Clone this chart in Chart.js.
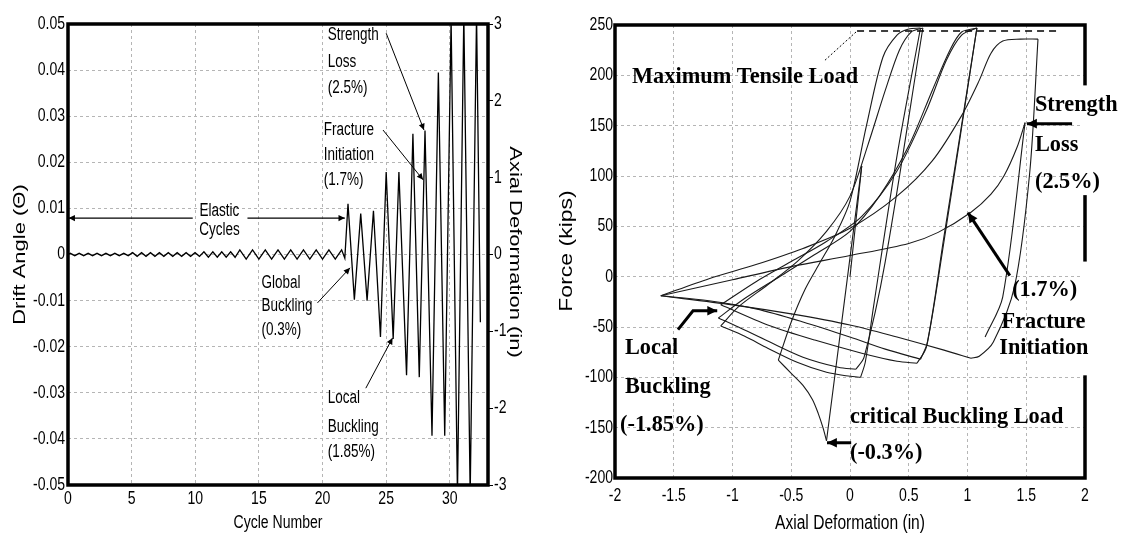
<!DOCTYPE html>
<html lang="en">
<head>
<meta charset="utf-8">
<script src="https://cdn.jsdelivr.net/npm/chart.js@4.4.0/dist/chart.umd.min.js"></script>
<style>
  body { margin: 0; background: #fff; }
  #drift-chart { position: absolute; left: 0; top: 0; }
  #loop-chart { position: absolute; left: 540px; top: 0; }
</style>
</head>
<body>
<canvas id="drift-chart" width="540" height="537"></canvas>
<canvas id="loop-chart" width="584" height="537"></canvas>

<script>
// ---- left: loading history ----
var driftCycle = [0, 0.18, 0.53, 0.88, 1.23, 1.58, 1.93, 2.28, 2.63, 2.98, 3.33, 3.68, 4.03, 4.38, 4.73,
  5.08, 5.43, 5.78, 6.13, 6.48, 6.83, 7.18, 7.53, 7.88, 8.23, 8.58, 8.93, 9.28, 9.63, 9.98, 10.33,
  10.68, 11.03, 11.38, 11.73, 12.08, 12.43, 12.78, 13.13,
  13.5, 14.0, 14.5, 15.0, 15.5, 16.0, 16.5, 17.0, 17.5, 18.0, 18.5, 19.0, 19.5, 20.0, 20.5, 21.0, 21.5, 21.75,
  22.0, 22.5, 23.0, 23.5, 24.0, 24.55, 25.0, 25.55, 26.0, 26.6, 27.1, 27.6, 28.05, 28.6, 29.1, 29.6,
  30.1, 30.6, 31.1, 31.6, 32.1, 32.4];
var driftAngle = [0, 0.00025, -0.00025, 0.00025, -0.00025, 0.00025, -0.00025, 0.00025, -0.00025, 0.00025, -0.00025, 0.00025, -0.00025, 0.00025, -0.00025,
  0.0004, -0.0004, 0.0004, -0.0004, 0.0004, -0.0004, 0.0004, -0.0004, 0.0004, -0.0004, 0.0004, -0.0004, 0.0004, -0.0004, 0.0004, -0.0004,
  0.0006, -0.0006, 0.0006, -0.0006, 0.0006, -0.0006, 0.0006, -0.0006,
  0.001, -0.001, 0.001, -0.001, 0.001, -0.001, 0.001, -0.001, 0.001, -0.001, 0.001, -0.001, 0.001, -0.001, 0.001, -0.001, 0.001, -0.0008,
  0.011, -0.0098, 0.0089, -0.0100, 0.0095, -0.0179, 0.0179, -0.0183, 0.0179, -0.0262, 0.0262, -0.0266, 0.0269, -0.0393, 0.0395, -0.0393,
  0.051, -0.052, 0.052, -0.052, 0.052, -0.0147];

var cycleTicks = [0, 5, 10, 15, 20, 25, 30];
var driftTicks = [-0.05, -0.04, -0.03, -0.02, -0.01, 0, 0.01, 0.02, 0.03, 0.04, 0.05];
var axialTicks = [-3, -2, -1, 0, 1, 2, 3];

// ---- right: force vs axial deformation, one array per half cycle ----
var defoTicks = [-2, -1.5, -1, -0.5, 0, 0.5, 1, 1.5, 2];
var forceTicks = [-200, -150, -100, -50, 0, 50, 100, 150, 200, 250];

var firstPush = [[0, 0], [0.05, 55], [0.1, 110]];
var firstBuckle = [[0.1, 110], [-0.2, -163]];
var postBuckle = [[-0.2, -163], [-0.23, -150], [-0.27, -136], [-0.32, -122], [-0.4, -108], [-0.5, -96], [-0.61, -83]];
var pull2 = [[-0.61, -83], [-0.5, -45], [-0.38, -12], [-0.25, 15], [-0.13, 40], [0, 75], [0.14, 150], [0.28, 218], [0.4, 240], [0.5, 246], [0.6, 247]];
var push2 = [[0.6, 247], [0.4, 120], [0.2, -30], [0.13, -85], [0.09, -100]];
var squash2 = [[0.09, -100], [0, -99], [-0.2, -95], [-0.45, -85], [-0.7, -71], [-0.9, -59], [-1.1, -49]];
var pull3 = [[-1.1, -49], [-0.95, -30], [-0.7, -8], [-0.45, 15], [-0.2, 45], [0, 80], [0.15, 130], [0.3, 185], [0.42, 225], [0.52, 243], [0.62, 247]];
var push3 = [[0.62, 247], [0.3, 15], [0.12, -80], [0.05, -92]];
var squash3 = [[0.05, -92], [-0.1, -90], [-0.4, -80], [-0.7, -64], [-0.95, -50], [-1.12, -41]];
var pull4 = [[-1.12, -41], [-0.9, -22], [-0.6, 0], [-0.3, 22], [0, 45], [0.25, 80], [0.5, 130], [0.7, 185], [0.85, 225], [0.95, 243], [1.08, 247]];
var push4 = [[1.08, 247], [0.8, 40], [0.65, -70], [0.57, -86]];
var squash4 = [[0.57, -86], [0.4, -84], [0.1, -76], [-0.3, -63], [-0.7, -48], [-1.1, -28]];
var pull5 = [[-1.1, -28], [-0.8, -5], [-0.5, 15], [-0.2, 35], [0.1, 60], [0.4, 105], [0.65, 165], [0.82, 215], [0.95, 240], [1.08, 247]];
var push5 = [[1.08, 247], [0.8, 35], [0.66, -65], [0.6, -82]];
var squash5 = [[0.6, -82], [0.3, -72], [0, -60], [-0.4, -45], [-0.8, -32], [-1.2, -24], [-1.61, -19]];
var pull6 = [[-1.61, -19], [-1.2, -2], [-0.8, 12], [-0.4, 28], [0, 48], [0.4, 80], [0.7, 115], [0.95, 160], [1.1, 195], [1.2, 222], [1.3, 234], [1.45, 236], [1.6, 236]];
var push6 = [[1.6, 236], [1.53, 104], [1.4, -10], [1.22, -65], [1.1, -79], [1.03, -81]];
var squash6 = [[1.03, -81], [0.8, -73], [0.4, -60], [0, -48], [-0.5, -37], [-1.0, -28], [-1.61, -19]];
var pull7 = [[-1.61, -19], [-1.0, -3], [-0.5, 10], [0, 21], [0.5, 33], [0.75, 44], [1.03, 64], [1.2, 82], [1.31, 100], [1.42, 128], [1.49, 153]];
var push7 = [[1.49, 153], [1.3, -20], [1.15, -60]];

var loopBranches = [firstPush, firstBuckle, postBuckle, pull2, push2, squash2, pull3, push3, squash3,
  pull4, push4, squash4, pull5, push5, squash5, pull6, push6, squash6, pull7, push7];

var maxTensileLoad = 244;

var sans = "'Liberation Sans', Arial, sans-serif";
var serif = "'Liberation Serif', 'Times New Roman', serif";
var squeeze = 0.78;   // the scanned figure is narrower than it is tall

function txt(ctx, s, x, y, font, sx, align) {
  ctx.save();
  ctx.font = font;
  ctx.textBaseline = 'middle';
  ctx.fillStyle = '#000';
  var w = ctx.measureText(s).width * sx;
  var x0 = x;
  if (align === 'center') x0 = x - w / 2;
  if (align === 'right') x0 = x - w;
  ctx.translate(x0, y);
  ctx.scale(sx, 1);
  ctx.fillText(s, 0, 0);
  ctx.restore();
}

function vtxt(ctx, s, x, y, font, angle) {
  ctx.save();
  ctx.font = font;
  ctx.textBaseline = 'middle';
  ctx.textAlign = 'center';
  ctx.fillStyle = '#000';
  ctx.translate(x, y);
  ctx.rotate(angle);
  ctx.scale(1, squeeze);
  ctx.fillText(s, 0, 0);
  ctx.restore();
}

function arrow(ctx, pts, width, head) {
  ctx.save();
  ctx.strokeStyle = '#000';
  ctx.fillStyle = '#000';
  ctx.lineWidth = width;
  ctx.beginPath();
  ctx.moveTo(pts[0][0], pts[0][1]);
  for (var i = 1; i < pts.length; i++) ctx.lineTo(pts[i][0], pts[i][1]);
  ctx.stroke();
  var a = pts[pts.length - 2], b = pts[pts.length - 1];
  var ang = Math.atan2(b[1] - a[1], b[0] - a[0]);
  ctx.beginPath();
  ctx.moveTo(b[0], b[1]);
  ctx.lineTo(b[0] - head * Math.cos(ang - 0.45), b[1] - head * Math.sin(ang - 0.45));
  ctx.lineTo(b[0] - head * Math.cos(ang + 0.45), b[1] - head * Math.sin(ang + 0.45));
  ctx.closePath();
  ctx.fill();
  ctx.restore();
}

function frame(chart) {
  var a = chart.chartArea, ctx = chart.ctx;
  ctx.save();
  ctx.strokeStyle = '#000';
  ctx.lineWidth = 3.5;
  ctx.strokeRect(a.left, a.top, a.right - a.left, a.bottom - a.top);
  ctx.restore();
}

var gridStyle = { color: '#b5b5b5', lineWidth: 1, drawTicks: false };
var dashStyle = { display: false, dash: [3, 3] };
var tickFont = '18px ' + sans;

// ---- left chart ----
var driftNotes = {
  id: 'driftNotes',
  afterDatasetsDraw: function (chart) {
    var ctx = chart.ctx, sx = chart.scales.x, sy = chart.scales.y, sy2 = chart.scales.y2, a = chart.chartArea;
    function p(c, d) { return [sx.getPixelForValue(c), sy.getPixelForValue(d)]; }
    frame(chart);

    // tick labels and axis titles
    sx.ticks.forEach(function (t) { txt(ctx, String(t.value), sx.getPixelForValue(t.value), a.bottom + 14, tickFont, squeeze, 'center'); });
    sy.ticks.forEach(function (t) {
      var v = t.value;
      txt(ctx, v === 0 ? '0' : v.toFixed(2), a.left - 3, sy.getPixelForValue(v), tickFont, squeeze, 'right');
    });
    sy2.ticks.forEach(function (t) { txt(ctx, String(t.value), a.right + 6, sy2.getPixelForValue(t.value), tickFont, squeeze); });
    txt(ctx, 'Cycle Number', (a.left + a.right) / 2, 523, '18px ' + sans, squeeze, 'center');
    vtxt(ctx, 'Drift Angle (Θ)', 20, (a.top + a.bottom) / 2, '22px ' + sans, -Math.PI / 2);
    vtxt(ctx, 'Axial Deformation (in)', 515, 252, '22px ' + sans, Math.PI / 2);

    var f = '18px ' + sans, k = 0.75;
    var q;
    q = p(20.4, 0.0476); txt(ctx, 'Strength', q[0], q[1], f, k);
    q = p(20.4, 0.0418); txt(ctx, 'Loss', q[0], q[1], f, k);
    q = p(20.4, 0.0361); txt(ctx, '(2.5%)', q[0], q[1], f, k);
    arrow(ctx, [p(25.0, 0.048), p(27.97, 0.027)], 1, 7);
    q = p(20.1, 0.0270); txt(ctx, 'Fracture', q[0], q[1], f, k);
    q = p(20.1, 0.0216); txt(ctx, 'Initiation', q[0], q[1], f, k);
    q = p(20.1, 0.0162); txt(ctx, '(1.7%)', q[0], q[1], f, k);
    arrow(ctx, [p(24.75, 0.027), p(27.9, 0.0162)], 1, 7);
    q = p(11.9, 0.0094); txt(ctx, 'Elastic', q[0], q[1], f, k, 'center');
    q = p(11.9, 0.0053); txt(ctx, 'Cycles', q[0], q[1], f, k, 'center');
    arrow(ctx, [p(9.8, 0.0079), p(0.05, 0.0079)], 1.2, 7);
    arrow(ctx, [p(14.1, 0.0079), p(21.75, 0.0079)], 1.2, 7);
    q = p(15.2, -0.0062); txt(ctx, 'Global', q[0], q[1], f, k);
    q = p(15.2, -0.0112); txt(ctx, 'Buckling', q[0], q[1], f, k);
    q = p(15.2, -0.0164); txt(ctx, '(0.3%)', q[0], q[1], f, k);
    arrow(ctx, [p(19.6, -0.0105), p(22.16, -0.0029)], 1, 7);
    q = p(20.4, -0.0311); txt(ctx, 'Local', q[0], q[1], f, k);
    q = p(20.4, -0.0374); txt(ctx, 'Buckling', q[0], q[1], f, k);
    q = p(20.4, -0.0428); txt(ctx, '(1.85%)', q[0], q[1], f, k);
    arrow(ctx, [p(23.4, -0.029), p(25.5, -0.0181)], 1, 7);
  }
};

new Chart(document.getElementById('drift-chart'), {
  type: 'scatter',
  data: {
    datasets: [{
      data: driftCycle.map(function (c, i) { return { x: c, y: driftAngle[i] }; }),
      showLine: true, borderColor: '#000', borderWidth: 1.3, pointRadius: 0, tension: 0
    }]
  },
  options: {
    responsive: false, animation: false,
    layout: { padding: { top: 24, right: 12, left: 0, bottom: 0 } },
    plugins: { legend: { display: false }, tooltip: { enabled: false } },
    scales: {
      x: {
        type: 'linear', min: 0, max: 33,
        afterBuildTicks: function (s) { s.ticks = cycleTicks.map(function (v) { return { value: v }; }); },
        afterFit: function (s) { s.height = 52; },
        grid: gridStyle, border: dashStyle,
        ticks: { display: false }
      },
      y: {
        type: 'linear', min: -0.05, max: 0.05, position: 'left',
        afterBuildTicks: function (s) { s.ticks = driftTicks.map(function (v) { return { value: v }; }); },
        afterFit: function (s) { s.width = 68; },
        grid: gridStyle, border: dashStyle,
        ticks: { display: false }
      },
      y2: {
        type: 'linear', min: -3, max: 3, position: 'right',
        afterBuildTicks: function (s) { s.ticks = axialTicks.map(function (v) { return { value: v }; }); },
        afterFit: function (s) { s.width = 40; },
        grid: { drawOnChartArea: false, drawTicks: true, tickLength: 5, tickColor: '#000' },
        border: { display: false },
        ticks: { display: false }
      }
    }
  },
  plugins: [driftNotes]
});

// ---- right chart ----
var loopNotes = {
  id: 'loopNotes',
  afterDatasetsDraw: function (chart) {
    var ctx = chart.ctx, sx = chart.scales.x, sy = chart.scales.y, a = chart.chartArea;
    function p(d, f) { return [sx.getPixelForValue(d), sy.getPixelForValue(f)]; }
    frame(chart);
    // gaps in the right border where the labels sit
    ctx.save();
    ctx.fillStyle = '#fff';
    ctx.fillRect(a.right - 3, sy.getPixelForValue(190), 8, sy.getPixelForValue(81) - sy.getPixelForValue(190));
    ctx.fillRect(a.right - 3, sy.getPixelForValue(15), 8, sy.getPixelForValue(-98) - sy.getPixelForValue(15));
    ctx.restore();

    // tick labels and axis titles
    sx.ticks.forEach(function (t) { txt(ctx, String(t.value), sx.getPixelForValue(t.value), a.bottom + 18, tickFont, squeeze, 'center'); });
    sy.ticks.forEach(function (t) { txt(ctx, String(t.value), a.left - 2, sy.getPixelForValue(t.value), tickFont, squeeze, 'right'); });
    txt(ctx, 'Axial Deformation (in)', (a.left + a.right) / 2, 523, '20px ' + sans, squeeze, 'center');
    vtxt(ctx, 'Force (kips)', 27, 251, '23px ' + sans, -Math.PI / 2);

    // maximum tensile load line
    ctx.save();
    ctx.strokeStyle = '#000';
    ctx.lineWidth = 1.5;
    ctx.setLineDash([7, 5]);
    var m0 = p(0.06, maxTensileLoad), m1 = p(1.77, maxTensileLoad);
    ctx.beginPath(); ctx.moveTo(m0[0], m0[1]); ctx.lineTo(m1[0], m1[1]); ctx.stroke();
    ctx.lineWidth = 1;
    ctx.setLineDash([2, 2]);
    var l0 = p(-0.213, 215);
    ctx.beginPath(); ctx.moveTo(l0[0], l0[1]); ctx.lineTo(m0[0], m0[1]); ctx.stroke();
    ctx.restore();

    var f = 'bold 24px ' + serif, k = 0.93;
    var q;
    q = p(-1.855, 198.6); txt(ctx, 'Maximum Tensile Load', q[0], q[1], f, k);
    q = p(1.574, 170.8); txt(ctx, 'Strength', q[0], q[1], f, k);
    q = p(1.574, 131); txt(ctx, 'Loss', q[0], q[1], f, k);
    q = p(1.574, 94.3); txt(ctx, '(2.5%)', q[0], q[1], f, k);
    arrow(ctx, [p(1.89, 152), p(1.506, 152)], 3, 11);
    q = p(1.38, -12.9); txt(ctx, '(1.7%)', q[0], q[1], f, k);
    q = p(1.29, -44.7); txt(ctx, 'Fracture', q[0], q[1], f, k);
    q = p(1.27, -70.5); txt(ctx, 'Initiation', q[0], q[1], f, k);
    arrow(ctx, [p(1.36, 1), p(1.004, 63.6)], 3, 11);
    q = p(-1.915, -70.5); txt(ctx, 'Local', q[0], q[1], f, k);
    q = p(-1.915, -109); txt(ctx, 'Buckling', q[0], q[1], f, k);
    q = p(-1.957, -147); txt(ctx, '(-1.85%)', q[0], q[1], f, k);
    arrow(ctx, [p(-1.464, -52.6), p(-1.336, -33.8), p(-1.13, -33.8)], 3, 11);
    q = p(0.0, -139); txt(ctx, 'critical Buckling Load', q[0], q[1], f, k);
    q = p(0.0, -174.8); txt(ctx, '(-0.3%)', q[0], q[1], f, k);
    arrow(ctx, [p(0.01, -165), p(-0.196, -165)], 3, 11);
  }
};

new Chart(document.getElementById('loop-chart'), {
  type: 'scatter',
  data: {
    datasets: loopBranches.map(function (b) {
      return {
        data: b.map(function (pt) { return { x: pt[0], y: pt[1] }; }),
        showLine: true, borderColor: '#1a1a1a', borderWidth: 1.1, pointRadius: 0, tension: 0.3
      };
    })
  },
  options: {
    responsive: false, animation: false,
    layout: { padding: { top: 25, right: 39, left: 0, bottom: 0 } },
    plugins: { legend: { display: false }, tooltip: { enabled: false } },
    scales: {
      x: {
        type: 'linear', min: -2, max: 2,
        afterBuildTicks: function (s) { s.ticks = defoTicks.map(function (v) { return { value: v }; }); },
        afterFit: function (s) { s.height = 59; },
        grid: gridStyle, border: dashStyle,
        ticks: { display: false }
      },
      y: {
        type: 'linear', min: -200, max: 250,
        afterBuildTicks: function (s) { s.ticks = forceTicks.map(function (v) { return { value: v }; }); },
        afterFit: function (s) { s.width = 75; },
        grid: gridStyle, border: dashStyle,
        ticks: { display: false }
      }
    }
  },
  plugins: [loopNotes]
});
</script>
</body>
</html>
